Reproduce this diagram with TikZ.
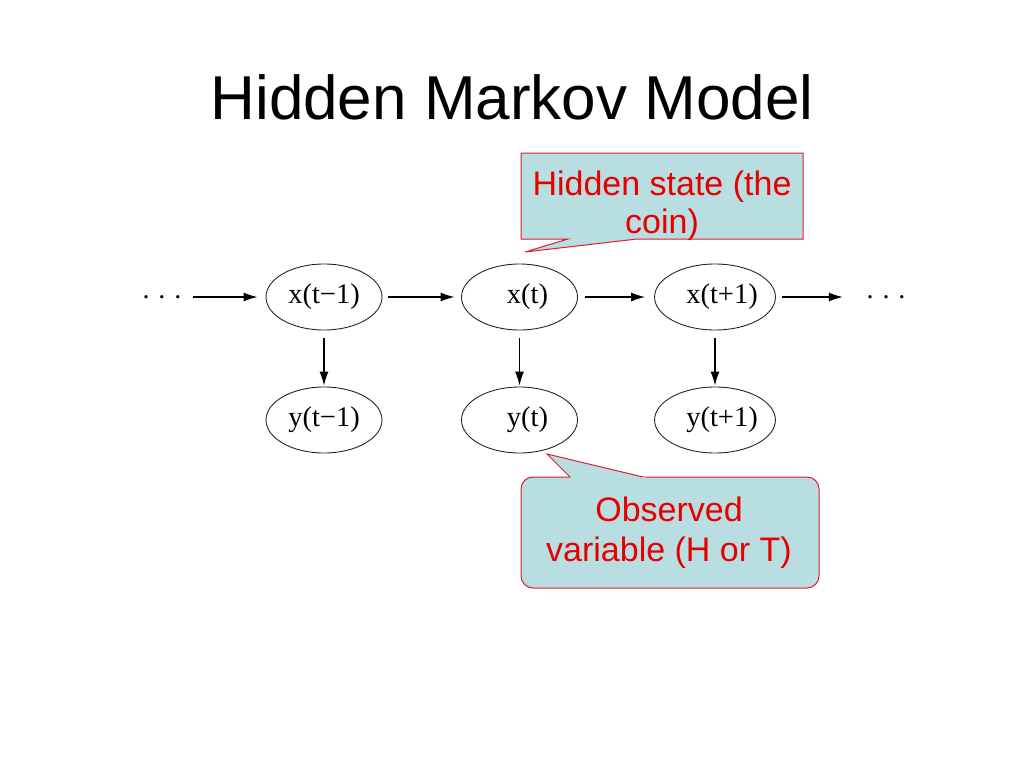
\documentclass[tikz,border=0pt]{standalone}
\usepackage{fontspec}
\setmainfont{Liberation Sans}
\newfontfamily\serifx{Liberation Serif}
\usetikzlibrary{shapes.geometric,arrows.meta}
\definecolor{calloutfill}{RGB}{184,222,226}
\definecolor{calloutline}{RGB}{222,30,45}
\definecolor{calltext}{RGB}{232,0,0}
\begin{document}
\begin{tikzpicture}[x=1pt,y=-1pt,
  state/.style={ellipse, draw=black!85, line width=0.9pt, minimum width=116pt,
    minimum height=66pt, inner sep=0pt, font=\serifx\fontsize{28.5}{30}\selectfont},
  dotsnode/.style={inner sep=0pt, font=\serifx\fontsize{28}{30}\selectfont},
  flow/.style={-{Latex[length=14pt,width=9pt]}, line width=1.2pt, black},
  calloutshape/.style={fill=calloutfill, draw=calloutline, line width=1pt},
  callouttext/.style={text=calltext, align=center, inner sep=0pt},
]
\useasboundingbox (0,0) rectangle (1024,768);

% title
\node[anchor=base, font=\fontsize{62}{70}\selectfont] (title) at (512,119) {Hidden Markov Model};

% states
\node[state] (x1) at (324,297) {x(t−1)};
\node[state] (x2) at (519.5,297) {\hspace{16pt}x(t)};
\node[state] (x3) at (715,297) {\hspace{14pt}x(t+1)};
\node[state] (y1) at (324,420) {y(t−1)};
\node[state] (y2) at (519.5,420) {\hspace{16pt}y(t)};
\node[state] (y3) at (715,420) {\hspace{14pt}y(t+1)};

% dots
\node[dotsnode] (dl) at (162,297) {.\hspace{9pt}.\hspace{9pt}.};
\node[dotsnode] (dr) at (886,297) {.\hspace{9pt}.\hspace{9pt}.};

% horizontal arrows
\draw[flow, shorten <=11.5pt, shorten >=8pt] (dl) -- (x1);
\draw[flow, shorten <=6pt, shorten >=6.5pt] (x1) -- (x2);
\draw[flow, shorten <=7.5pt, shorten >=9pt] (x2) -- (x3);
\draw[flow, shorten <=6pt, shorten >=23.5pt] (x3) -- (dr);

% vertical arrows
\draw[flow, shorten <=8pt, shorten >=1pt] (x1) -- (y1);
\draw[flow, shorten <=8pt, shorten >=1pt] (x2) -- (y2);
\draw[flow, shorten <=8pt, shorten >=1pt] (x3) -- (y3);

% callout 1: hidden state
\coordinate (tipA) at (525,252);
\draw[calloutshape] (521,153) -- (803,153) -- (803,239) -- (637,239) -- (tipA)
  -- (568,239) -- (521,239) -- cycle;
\node[callouttext, font=\fontsize{34}{38}\selectfont] (hid) at (662,206)
  {Hidden state (the\\coin)};

% callout 2: observed variable
\node[calloutshape, rounded corners=12pt, minimum width=298pt, minimum height=111pt,
  inner sep=0pt] (obsbox) at (670,532.5) {};
\coordinate (tipB) at (547,454);
\fill[calloutfill] (571.2,478.2) -- (tipB) -- (647.8,478.2) -- cycle;
\draw[calloutline, line width=1pt, line join=miter] (570,477) -- (tipB) -- (643,477);
\node[callouttext, font=\fontsize{34}{40}\selectfont] (obs) at (669,533)
  {Observed\\variable (H or T)};
\end{tikzpicture}
\end{document}
